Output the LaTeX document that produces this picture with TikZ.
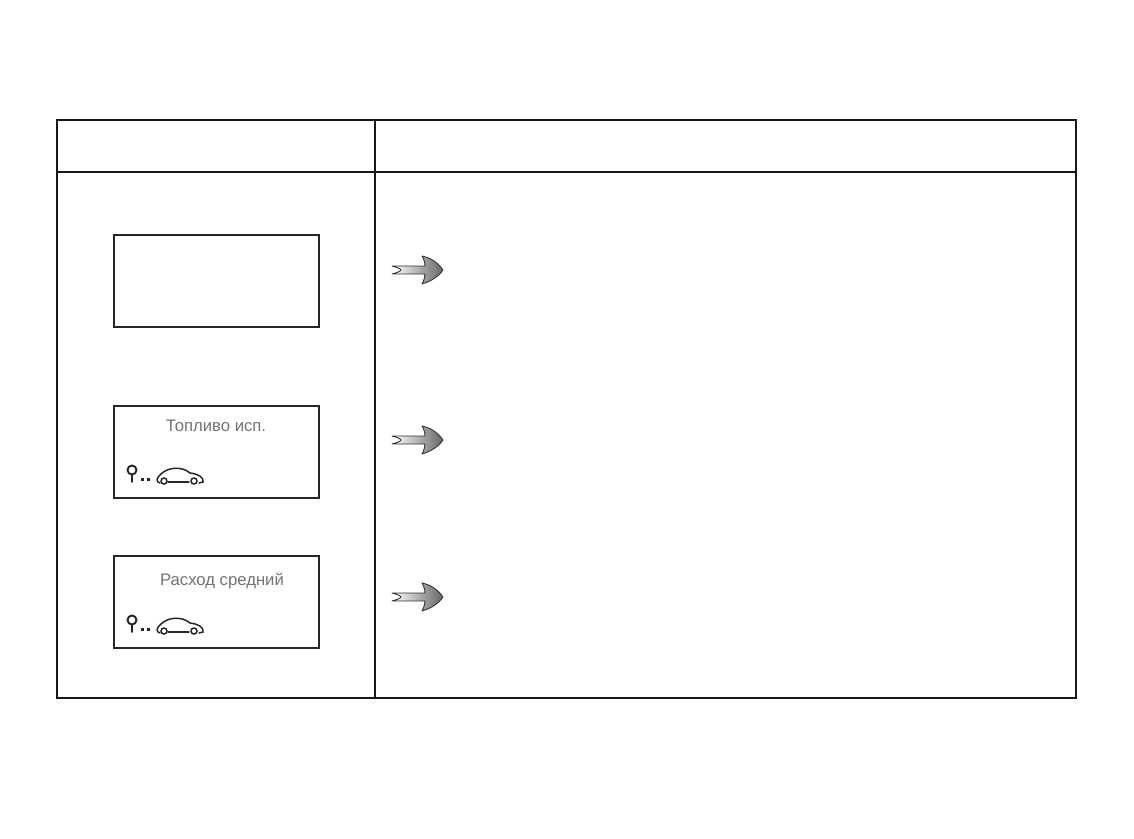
\documentclass[tikz,border=0pt]{standalone}
\usepackage{fontspec}
\setmainfont{Liberation Sans}
\usetikzlibrary{arrows.meta, calc}
\tikzset{
    screen/.style={draw=black!85, line width=1.1pt, fill=white, minimum width=4.1cm, minimum height=1.84cm, inner sep=0pt},
    screentext/.style={text=black!55, font=\fontsize{9.5}{11}\selectfont, inner sep=0pt},
    tableline/.style={draw=black!90, line width=1.1pt},
    iconline/.style={draw=black!85, line width=0.85pt, line cap=round},
    pics/pointer/.style={code={
        % Shaft fades into the head, notch at the tail
        \path[left color=white, right color=black!60, draw=black!80, line width=0.5pt, line join=round]
            (0,-4) -- (33,-4) .. controls (33,-7) and (32,-11) .. (30,-14) .. controls (40,-12) and (47,-6) .. (51,0)
            .. controls (47,6) and (40,11) .. (30,14) .. controls (32,10) and (33,7) .. (33,4) -- (0,4)
            .. controls (3,3) and (8,2) .. (9,0) .. controls (8,-2) and (3,-3) .. (0,-4) -- cycle;
    }},
    pics/tripicon/.style={code={
        % Pin and dots
        \draw[iconline, line width=1.1pt] (0,-2) circle (4.5);
        \draw[iconline, line width=1.1pt] (0,2.5) -- (0,10);
        \fill[black!85] (9,5.5) rectangle (12,8.5);
        \fill[black!85] (15,5.5) rectangle (18,8.5);
        % Car outline
        \draw[iconline] (28,11) .. controls (24,10) and (24,6) .. (29,2) .. controls (36,-5) and (50,-6) .. (58,1)
            .. controls (66,2) and (72,5) .. (71,10) -- (67,11);
        \draw[iconline] (32,9) circle (3) (62,9) circle (3);
        \draw[iconline] (36,10) -- (57,10);
    }},
}
\begin{document}
\begin{tikzpicture}[x=0.02cm, y=-0.02cm]
    \useasboundingbox (0,0) rectangle (1134,839);

    % Table
    \draw[tableline] (57,120) rectangle (1076,698);
    \draw[tableline] (57,172) -- (1076,172);
    \draw[tableline] (375,120) -- (375,698);

    % Screens
    \node[screen] (screenblank) at (216.5,281) {};
    \node[screen] (screenfuel) at (216.5,452) {};
    \node[screen] (screenavg) at (216.5,602) {};

    \node[screentext] (fueltext) at (216,426) {Топливо исп.};
    \node[screentext] (avgtext) at (222,581) {Расход средний};

    % Icons
    \pic at (132,472) {tripicon};
    \pic at (132,622) {tripicon};

    % Arrows
    \pic at (392,270) {pointer};
    \pic at (392,440) {pointer};
    \pic at (392,597) {pointer};
\end{tikzpicture}
\end{document}
